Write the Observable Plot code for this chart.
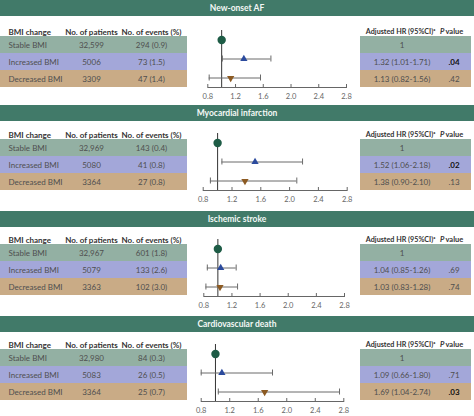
<!DOCTYPE html>
<html><head><meta charset="utf-8">
<script src="https://cdn.jsdelivr.net/npm/d3@7"></script>
<script src="https://cdn.jsdelivr.net/npm/@observablehq/plot@0.6"></script>
<style>
body{margin:0;background:#fff;font-family:Lato,"Open Sans",sans-serif;}
#chart{position:relative;width:474px;height:416px;overflow:hidden;background:#fff;}
.hdr{position:absolute;left:0;width:474px;height:16px;background:#417a69;color:#f4f8f5;font-family:Lato,sans-serif;font-weight:700;font-size:8.5px;line-height:16px;text-align:center;}
.blk{position:absolute;}
.blk svg{display:block;background:transparent;}
</style></head><body><div id="chart"></div>
<script>
// ---- data ----
const outcomes = ["New-onset AF", "Myocardial infarction", "Ischemic stroke", "Cardiovascular death"];
const groups = ["Stable BMI", "Increased BMI", "Decreased BMI"];
const patients = [
  ["32,599", "5006", "3309"],
  ["32,969", "5080", "3364"],
  ["32,967", "5079", "3363"],
  ["32,980", "5083", "3364"]
];
const events = [
  ["294 (0.9)", "73 (1.5)", "47 (1.4)"],
  ["143 (0.4)", "41 (0.8)", "27 (0.8)"],
  ["601 (1.8)", "133 (2.6)", "102 (3.0)"],
  ["84 (0.3)", "26 (0.5)", "25 (0.7)"]
];
const hrEstimate = [
  [1, 1.32, 1.13],
  [1, 1.52, 1.38],
  [1, 1.04, 1.03],
  [1, 1.09, 1.69]
];
const ciLow = [
  [null, 1.01, 0.82],
  [null, 1.06, 0.90],
  [null, 0.85, 0.83],
  [null, 0.66, 1.04]
];
const ciHigh = [
  [null, 1.71, 1.56],
  [null, 2.18, 2.10],
  [null, 1.26, 1.28],
  [null, 1.80, 2.74]
];
const pValues = [
  ["", ".04", ".42"],
  ["", ".02", ".13"],
  ["", ".69", ".74"],
  ["", ".71", ".03"]
];
const tickValues = [0.8, 1.2, 1.6, 2.0, 2.4, 2.8];
const leftColumns = ["BMI change", "No. of patients", "No. of events (%)"];
const rightColumns = ["Adjusted HR (95%CI)\u1d43", "P value"];

// ---- styling / layout ----
const rowColors = ["#93b0a3", "#a3a7d9", "#c9ab86"];
const markerColors = ["#1e5c46", "#2b4a9d", "#8c5a22"];
const font = "Lato, 'Open Sans', sans-serif";
const headerTop = [0, 105, 211, 316];
const axisY = [87, 190, 295.5, 400.5];
const axisLeft = [207.3, 202.7, 203.3, 200.7];
const axisRight = [346, 346.7, 344, 343.3];

const sqrt3 = Math.sqrt(3);
const triangleDown = {
  draw(context, size) {
    const y = -Math.sqrt(size / (sqrt3 * 3));
    context.moveTo(0, -y * 2);
    context.lineTo(-sqrt3 * y, y);
    context.lineTo(sqrt3 * y, y);
    context.closePath();
  }
};

const chart = document.getElementById("chart");
function place(el, left, top) {
  const d = document.createElement("div");
  d.className = "blk";
  d.style.left = left + "px";
  d.style.top = top + "px";
  d.appendChild(el);
  chart.appendChild(d);
}

outcomes.forEach((title, i) => {
  const base = axisY[i];
  const rows = groups.map((g, j) => ({
    group: g,
    patients: patients[i][j],
    events: events[i][j],
    hr: hrEstimate[i][j],
    lo: ciLow[i][j],
    hi: ciHigh[i][j],
    hrText: ciLow[i][j] == null ? String(hrEstimate[i][j])
      : `${hrEstimate[i][j].toFixed(2)} (${ciLow[i][j].toFixed(2)}-${ciHigh[i][j].toFixed(2)})`,
    p: pValues[i][j],
    sig: pValues[i][j] !== "" && parseFloat(pValues[i][j]) < 0.05
  }));

  // header band with title
  const hdr = document.createElement("div");
  hdr.className = "hdr";
  hdr.style.top = headerTop[i] + "px";
  hdr.textContent = title;
  chart.appendChild(hdr);

  const tableTop = base - 66.5;
  const textFill = "#4f4f4f";

  // left table
  const left = Plot.plot({
    width: 187, height: 66.5,
    marginTop: 15, marginBottom: 0, marginLeft: 0, marginRight: 0,
    x: {type: "band", domain: leftColumns, range: [-3, 184], axis: null},
    y: {type: "band", domain: groups, padding: 0, axis: null},
    color: {domain: groups, range: rowColors},
    style: {fontFamily: font, fontSize: "8px", background: "transparent"},
    marks: [
      Plot.cell(rows, {y: "group", fill: "group"}),
      Plot.text(rows, {x: () => leftColumns[0], y: "group", text: "group", textAnchor: "start", dx: -23, fill: textFill}),
      Plot.text(rows, {x: () => leftColumns[1], y: "group", text: "patients", fill: textFill}),
      Plot.text(rows, {x: () => leftColumns[2], y: "group", text: "events", fill: textFill}),
      Plot.text([leftColumns[0]], {x: d => d, text: d => d, frameAnchor: "top", dy: -7.5, textAnchor: "start", dx: -23, fill: "#333", fontWeight: "bold"}),
      Plot.text(leftColumns.slice(1), {x: d => d, text: d => d, frameAnchor: "top", dy: -7.5, fill: "#333", fontWeight: "bold"})
    ]
  });
  place(left, 0, tableTop);

  // right table
  const right = Plot.plot({
    width: 111, height: 66.5,
    marginTop: 15, marginBottom: 0, marginLeft: 0, marginRight: 0,
    x: {type: "band", domain: rightColumns, range: [12.5, 122.5], axis: null},
    y: {type: "band", domain: groups, padding: 0, axis: null},
    color: {domain: groups, range: rowColors},
    style: {fontFamily: font, fontSize: "8px", background: "transparent"},
    marks: [
      Plot.cell(rows, {y: "group", fill: "group"}),
      Plot.text(rows, {x: () => rightColumns[0], y: "group", text: "hrText", fill: textFill}),
      Plot.text(rows.filter(d => !d.sig), {x: () => rightColumns[1], y: "group", text: "p", fill: textFill}),
      Plot.text(rows.filter(d => d.sig), {x: () => rightColumns[1], y: "group", text: "p", fill: "#111", fontWeight: "bold"}),
      Plot.text([rightColumns[0]], {x: d => d, text: d => d, frameAnchor: "top", dy: -7.5, dx: -1.5, fill: "#333", fontWeight: "bold", fontSize: 7.2}),
      Plot.text([rightColumns[1]], {x: d => d, text: d => d.split(" ")[0], frameAnchor: "top", dy: -7.5, dx: -14, textAnchor: "start", fill: "#333", fontWeight: "bold", fontStyle: "italic", fontSize: 7.5}),
      Plot.text([rightColumns[1]], {x: d => d, text: d => d.split(" ")[1], frameAnchor: "top", dy: -7.5, dx: -8.5, textAnchor: "start", fill: "#333", fontWeight: "bold", fontSize: 7.5})
    ]
  });
  place(right, 360, tableTop);

  // forest plot
  const ci = rows.filter(d => d.lo != null);
  const mT = 6, mB = 16, plotH = 57;
  const forest = Plot.plot({
    width: 173, height: mT + plotH + mB,
    marginTop: mT, marginBottom: mB,
    marginLeft: axisLeft[i] - 187, marginRight: 360 - axisRight[i],
    x: {domain: [0.8, 2.8], clamp: true, ticks: tickValues, tickFormat: d => d.toFixed(1), tickSize: -3, tickPadding: 9.5, line: true, label: null},
    y: {type: "band", domain: groups, padding: 0, axis: null},
    style: {fontFamily: font, fontSize: "7.5px", color: "#666", background: "transparent"},
    marks: [
      Plot.ruleX([1], {stroke: "#333", strokeWidth: 1}),
      Plot.ruleY(ci, {y: "group", x1: "lo", x2: "hi", stroke: "#6a6a6a", strokeWidth: 1}),
      Plot.tickX(ci, {x: "lo", y: "group", insetTop: 6.5, insetBottom: 6.5, stroke: "#6a6a6a"}),
      Plot.tickX(ci, {x: "hi", y: "group", insetTop: 6.5, insetBottom: 6.5, stroke: "#6a6a6a"}),
      Plot.dot(rows.filter(d => d.group === groups[0]), {x: "hr", y: "group", r: 4.2, symbol: "circle", fill: markerColors[0]}),
      Plot.dot(rows.filter(d => d.group === groups[1]), {x: "hr", y: "group", r: 2.7, symbol: "triangle", fill: markerColors[1]}),
      Plot.dot(rows.filter(d => d.group === groups[2]), {x: "hr", y: "group", r: 2.7, symbol: triangleDown, fill: markerColors[2]})
    ]
  });
  place(forest, 187, base - plotH - mT);
});
</script>
</body></html>
